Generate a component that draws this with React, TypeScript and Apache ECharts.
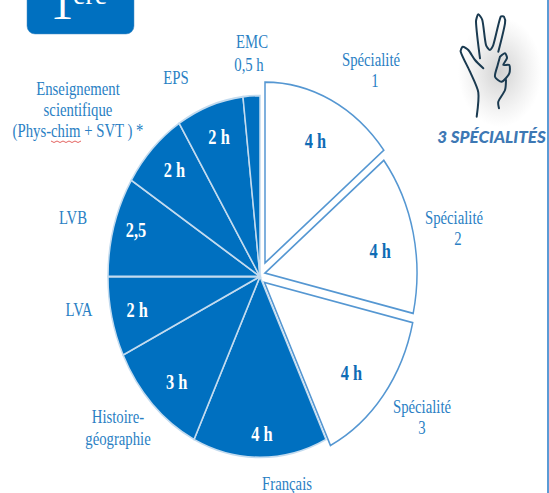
import React, { useEffect, useRef } from "react";
import * as echarts from "echarts";

const categories = ["Spécialité 1", "Spécialité 2", "Spécialité 3", "Français", "Histoire-géographie", "LVA", "LVB", "Enseignement scientifique", "EPS", "EMC"];
const hours = [4, 4, 4, 4, 3, 2, 2.5, 2, 2, 0.5];
const valueLabels = ["4 h", "4 h", "4 h", "4 h", "3 h", "2 h", "2,5", "2 h", "2 h", ""];
const isSpecialty = [true, true, true, false, false, false, false, false, false, false];

// Layout (not data)
const CX = 260, CY = 276.5, RX = 152, STRETCH = 1.19;
const offsets = [[5, -13.5], [5, -3.4], [4.5, 6], [0, 0], [0, 0], [0, 0], [0, 0], [0, 0], [0, 0], [0, 0]];
const labelRadius = [114, 116, 115, 131, 122, 126, 130, 124, 124, 0];
const labelNudge = [[1, 1], [2, 9], [-3, 6], [2, 2], [3, 3], [0, 1], [1, -3], [2, -2], [0, 0], [0, 0]];
const outerLabels: [string, number, number][] = [
  ["EMC", 252, 42], ["0,5 h", 249, 65], ["EPS", 176, 78],
  ["Enseignement", 78, 89], ["scientifique", 78, 110], ["(Phys-chim + SVT ) *", 78, 131],
  ["Spécialité", 371, 60], ["1", 375, 81], ["Spécialité", 454, 218], ["2", 458, 239],
  ["Spécialité", 422, 407], ["3", 422, 428], ["LVB", 73, 218], ["LVA", 79, 310],
  ["Histoire-", 118, 417], ["géographie", 118, 439], ["Français", 287, 484],
];
const total = hours.reduce((a, b) => a + b, 0);
const FONT = '"Liberation Serif"';

const handLines: number[][][] = [
  [[476.7, 116.7], [478.3, 92.3], [470, 71.7], [460.7, 51.7], [462.7, 46.7], [468.3, 50], [475, 60], [483.3, 68.3]],
  [[480, 58.3], [476, 21.7], [478.3, 14.3], [482.3, 20], [486, 45], [490, 50], [493.3, 45], [500.7, 16.7], [504, 16.7], [505, 23.3], [498.3, 51.7]],
  [[500, 56.7], [505, 53.3], [507, 58], [503.3, 65], [509.3, 65], [509.3, 73.3], [501.7, 81.7], [495, 76.7], [497.7, 65], [500, 56.7]],
  [[506, 80], [505, 90], [498.3, 101.7], [499, 108.3]],
];

function renderSlice(params: any, api: any) {
  const i = params.dataIndex;
  let before = 0;
  for (let k = 0; k < i; k++) before += hours[k];
  const value = api.value(0);
  const a0 = (before / total) * Math.PI * 2;
  const a1 = ((before + value) / total) * Math.PI * 2;
  const mid = (a0 + a1) / 2;
  const cx = CX + offsets[i][0];
  const cy = CY + offsets[i][1];
  const spec = isSpecialty[i];
  const children: any[] = [
    {
      type: "sector",
      x: cx,
      y: cy,
      scaleY: STRETCH,
      shape: { cx: 0, cy: 0, r0: 0, r: RX, startAngle: a0 - Math.PI / 2, endAngle: a1 - Math.PI / 2, clockwise: true },
      style: spec
        ? { fill: "#ffffff", stroke: "#5597d2", lineWidth: 1.5 }
        : { fill: "#0070c0", stroke: "#c3dbef", lineWidth: 1.5 },
    },
  ];
  if (valueLabels[i]) {
    children.push({
      type: "text",
      x: cx + Math.sin(mid) * labelRadius[i] + labelNudge[i][0],
      y: cy - Math.cos(mid) * labelRadius[i] * STRETCH + labelNudge[i][1],
      scaleX: 0.82,
      z2: 10,
      style: {
        text: valueLabels[i],
        fontFamily: FONT,
        fontWeight: "bold",
        fontSize: 20,
        fill: spec ? "#0f6cb5" : "#ffffff",
        textAlign: "center",
        verticalAlign: "middle",
      },
    });
  }
  return { type: "group", children };
}

export default function App() {
  const ref = useRef<HTMLDivElement>(null);
  useEffect(() => {
    const chart = echarts.init(ref.current!, undefined, { renderer: "svg" });
    const graphics: any[] = [
      {
        type: "rect",
        shape: { x: 27, y: -12, width: 107, height: 46, r: 8 },
        style: { fill: "#0070c0", stroke: "#4a8fc7", lineWidth: 0.5 },
      },
      {
        type: "text", x: 62, y: 3, scaleX: 0.95,
        style: { text: "1", fontFamily: FONT, fontSize: 48, fill: "#ffffff", textAlign: "center", verticalAlign: "middle" },
      },
      {
        type: "text", x: 90, y: -5.5, scaleX: 1,
        style: { text: "ère", fontFamily: FONT, fontSize: 28, fill: "#ffffff", textAlign: "center", verticalAlign: "middle" },
      },
      {
        type: "ellipse",
        shape: { cx: 500, cy: 72, rx: 42, ry: 55 },
        style: {
          fill: {
            type: "radial", x: 0.5, y: 0.5, r: 0.5,
            colorStops: [
              { offset: 0, color: "rgba(120,120,120,0.34)" },
              { offset: 0.5, color: "rgba(140,140,140,0.18)" },
              { offset: 1, color: "rgba(160,160,160,0)" },
            ],
          },
        },
      },
      ...handLines.map((points) => ({
        type: "polyline",
        shape: { points, smooth: 0.25 },
        style: { fill: "none", stroke: "#1a3a50", lineWidth: 2, lineCap: "round" },
      })),
      {
        type: "text", x: 491.5, y: 136.5,
        style: {
          text: "3 SPÉCIALITÉS", fontFamily: "Lato", fontWeight: 900, fontStyle: "italic", fontSize: 17,
          fill: "#3d78b4", textAlign: "center", verticalAlign: "middle",
        },
      },
      { type: "rect", shape: { x: 547, y: 0, width: 2, height: 493 }, style: { fill: "#5b9bd5" } },
      ...outerLabels.map(([text, x, y]) => ({
        type: "text", x, y, scaleX: 0.82,
        style: { text, fontFamily: FONT, fontSize: 18, fill: "#2a7fc4", textAlign: "center", verticalAlign: "middle" },
      })),
      {
        type: "polyline",
        shape: { points: [[51, 141], [54, 142.5], [57, 141], [60, 142.5], [63, 141], [66, 142.5], [69, 141], [72, 142.5], [75, 141], [78, 142.5], [81, 141]] },
        style: { fill: "none", stroke: "#e0524f", lineWidth: 0.9 },
      },
    ];
    chart.setOption({
      animation: false,
      backgroundColor: "#ffffff",
      graphic: { elements: graphics },
      series: [
        {
          type: "custom",
          coordinateSystem: "none",
          silent: true,
          clip: false,
          renderItem: renderSlice,
          encode: { value: 0, itemName: 1 },
          data: hours.map((v, i) => [v, categories[i]]),
        },
      ],
    });
    return () => chart.dispose();
  }, []);
  return <div ref={ref} style={{ position: "fixed", left: 0, top: 0, width: 549, height: 493 }} />;
}
